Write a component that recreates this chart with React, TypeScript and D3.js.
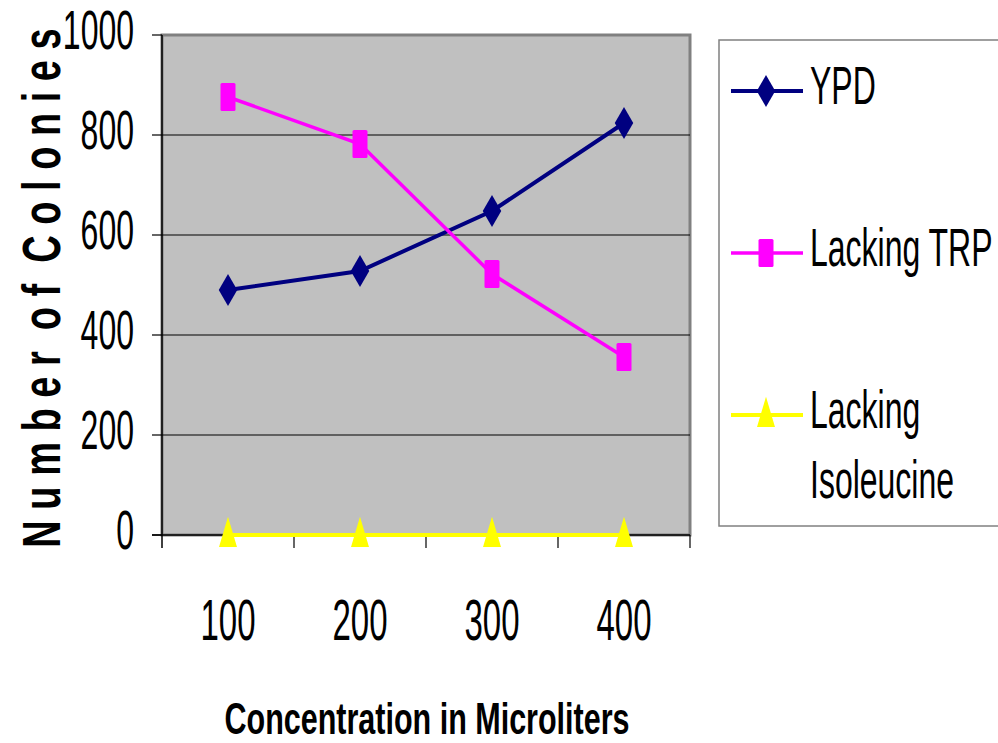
import React from "react";
import * as d3 from "d3";

const categories = ["100", "200", "300", "400"];
const ypd = [490, 528, 648, 824];
const lackingTrp = [876, 782, 522, 356];
const lackingIsoleucine = [0, 0, 0, 0];
const yTicks = [0, 200, 400, 600, 800, 1000];

const series = [
  { name: ["YPD"], values: ypd, color: "#000080", width: 4, marker: "diamond" },
  { name: ["Lacking TRP"], values: lackingTrp, color: "#FF00FF", width: 3.5, marker: "square" },
  { name: ["Lacking", "Isoleucine"], values: lackingIsoleucine, color: "#FFFF00", width: 4, marker: "triangle" },
];

const W = 998;
const H = 743;
const plot = { left: 162, right: 690, top: 35, bottom: 535 };
const FONT = "'Liberation Sans', Arial, sans-serif";

const xScale = d3.scaleBand().domain(categories).range([plot.left, plot.right]);
const yScale = d3.scaleLinear().domain([0, 1000]).range([plot.bottom, plot.top]);

const line = d3
  .line<number>()
  .x((_, i) => (xScale(categories[i]) as number) + xScale.bandwidth() / 2)
  .y((d) => yScale(d));

const diamond = d3.symbol().type(d3.symbolDiamond).size(296)() as string;
const triangle = d3.symbol().type(d3.symbolTriangle).size(140)() as string;

function Marker({ kind, x, y, color }: { kind: string; x: number; y: number; color: string }) {
  if (kind === "diamond") return <path d={diamond} transform={`translate(${x},${y})`} fill={color} />;
  if (kind === "square")
    return <rect x={x - 7.5} y={y - 14} width={15} height={28} rx={1.5} fill={color} />;
  return <path d={triangle} transform={`translate(${x},${y + 2}) scale(1,1.95)`} fill={color} />;
}

function Stretch({ x, y, size, sy, anchor, weight, children }: any) {
  return (
    <text
      transform={`translate(${x},${y}) scale(1,${sy})`}
      fontSize={size}
      fontFamily={FONT}
      fontWeight={weight || "normal"}
      textAnchor={anchor || "start"}
      fill="#000"
      style={{ whiteSpace: "pre" }}
    >
      {children}
    </text>
  );
}

export default function App() {
  const legendY = [91, 253, 415];
  return (
    <svg width={W} height={H} style={{ position: "absolute", left: 0, top: 0, background: "#fff" }}>
      {/* plot area */}
      <rect
        x={plot.left}
        y={plot.top}
        width={plot.right - plot.left}
        height={plot.bottom - plot.top}
        fill="#C0C0C0"
        stroke="#808080"
        strokeWidth={3}
      />
      {yTicks
        .filter((t) => t > 0 && t < 1000)
        .map((t) => (
          <line key={t} x1={plot.left} x2={plot.right} y1={yScale(t)} y2={yScale(t)} stroke="#000" strokeWidth={1} />
        ))}
      {/* axes */}
      <line x1={plot.left} x2={plot.left} y1={plot.top} y2={plot.bottom + 13} stroke="#000" strokeWidth={1.5} />
      <line x1={plot.left - 10} x2={plot.right} y1={plot.bottom} y2={plot.bottom} stroke="#000" strokeWidth={1.5} />
      {yTicks.map((t) => (
        <g key={t}>
          <line x1={plot.left - 10} x2={plot.left} y1={yScale(t)} y2={yScale(t)} stroke="#000" strokeWidth={1.2} />
          <Stretch x={134} y={yScale(t) + 14} size={32} sy={1.72} anchor="end">
            {t}
          </Stretch>
        </g>
      ))}
      {categories.map((c) => (
        <g key={c}>
          <line
            x1={(xScale(c) as number) + xScale.bandwidth()}
            x2={(xScale(c) as number) + xScale.bandwidth()}
            y1={plot.bottom}
            y2={plot.bottom + 13}
            stroke="#000"
            strokeWidth={1.2}
          />
          <Stretch x={(xScale(c) as number) + xScale.bandwidth() / 2} y={640} size={33} sy={1.72} anchor="middle">
            {c}
          </Stretch>
        </g>
      ))}
      {/* series */}
      {series.map((s) => (
        <g key={s.name.join(" ")}>
          <path d={line(s.values) as string} fill="none" stroke={s.color} strokeWidth={s.width} />
          {s.values.map((v, i) => (
            <Marker
              key={i}
              kind={s.marker}
              x={(xScale(categories[i]) as number) + xScale.bandwidth() / 2}
              y={yScale(v)}
              color={s.color}
            />
          ))}
        </g>
      ))}
      {/* axis titles */}
      <Stretch x={427} y={734} size={30.5} sy={1.48} anchor="middle" weight="bold">
        Concentration in Microliters
      </Stretch>
      <g transform="translate(60,288) rotate(-90)">
        <Stretch x={0} y={0} size={38} sy={1.42} anchor="middle" weight="bold">
          {"N u m b e r  o f  C o l o n i e s"}
        </Stretch>
      </g>
      {/* legend */}
      <rect x={719} y={40} width={300} height={486} fill="#fff" stroke="#808080" strokeWidth={1.5} />
      {series.map((s, i) => (
        <g key={s.name.join(" ")}>
          <line x1={731} x2={803} y1={legendY[i]} y2={legendY[i]} stroke={s.color} strokeWidth={s.width} />
          <Marker kind={s.marker} x={766} y={legendY[i]} color={s.color} />
          {s.name.map((n, j) => (
            <Stretch key={n} x={810} y={legendY[i] + 13 + j * 70} size={32} sy={1.68}>
              {n}
            </Stretch>
          ))}
        </g>
      ))}
    </svg>
  );
}
